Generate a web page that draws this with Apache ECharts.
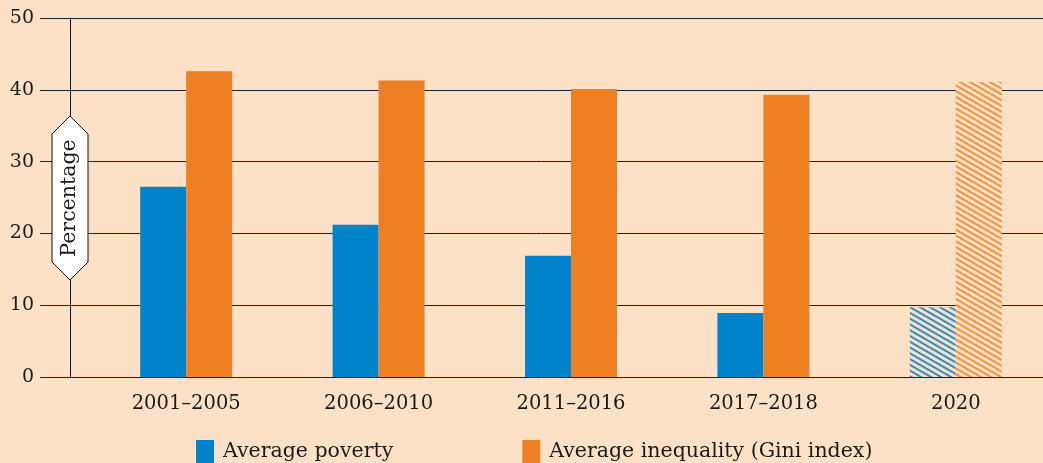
<!DOCTYPE html>
<html><head><meta charset="utf-8">
<script src="https://cdn.jsdelivr.net/npm/echarts@6/dist/echarts.min.js"></script>
<style>html,body{margin:0;padding:0;background:#fde1c7;}#c{width:1043px;height:463px;}</style>
</head><body><div id="c"></div>
<script>
const categories = ['2001–2005', '2006–2010', '2011–2016', '2017–2018', '2020'];
const poverty = [26.5, 21.2, 16.9, 8.9, 9.7];
const inequality = [42.6, 41.3, 40.1, 39.3, 41.1];
const yTicks = [0, 10, 20, 30, 40, 50];
const projectedIndex = 4;

const BG = '#fde1c7', BLUE = '#0083cb', ORANGE = '#ee7f22';
const FONT = 'DejaVu Serif';

function styled(arr, color, decalColor) {
  return arr.map((v, i) => i === projectedIndex ? {
    value: v,
    itemStyle: { color: BG, decal: { symbol: 'rect', dashArrayX: [1, 0], dashArrayY: [1.2, 2.2], rotation: Math.PI / 6, color: decalColor, symbolSize: 1 } }
  } : v);
}

const chart = echarts.init(document.getElementById('c'));
chart.setOption({
  backgroundColor: BG,
  animation: false,
  textStyle: { fontFamily: FONT },
  grid: [
    { left: 40, right: 0, top: 18, bottom: 86, outerBoundsMode: 'none', containLabel: false },
    { left: 90, width: 962, top: 18, bottom: 86, outerBoundsMode: 'none', containLabel: false }
  ],
  xAxis: [
    { gridIndex: 0, type: 'value', show: false, min: 0, max: 1 },
    { gridIndex: 1, type: 'category', data: categories,
      axisLine: { show: false }, axisTick: { show: false },
      axisLabel: { color: '#1a1a1a', fontSize: 19.5, fontFamily: FONT, margin: 17 } }
  ],
  yAxis: [
    { gridIndex: 0, type: 'value', min: yTicks[0], max: yTicks[yTicks.length - 1], interval: 10,
      axisLine: { show: false }, axisTick: { show: false },
      axisLabel: { color: '#1a1a1a', fontSize: 19, fontFamily: FONT, margin: 6 },
      splitLine: { lineStyle: { color: '#222', width: 1 } } },
    { gridIndex: 1, type: 'value', min: yTicks[0], max: yTicks[yTicks.length - 1], interval: 10,
      offset: 20,
      axisLine: { show: true, lineStyle: { color: '#111', width: 1 } }, axisTick: { show: false },
      axisLabel: { show: false }, splitLine: { show: false } }
  ],
  legend: {
    left: 196, top: 440, padding: 0, itemWidth: 18, itemHeight: 24, itemGap: 129,
    icon: 'rect',
    textStyle: { fontSize: 20.5, fontFamily: FONT, color: '#1a1a1a', padding: [0, 0, 0, 4] },
    data: ['Average poverty', 'Average inequality (Gini index)']
  },
  series: [
    { name: 'Average poverty', type: 'bar', xAxisIndex: 1, yAxisIndex: 1, barWidth: 46, barGap: '0%',
      itemStyle: { color: BLUE }, data: styled(poverty, BLUE, '#2a8fc4') },
    { name: 'Average inequality (Gini index)', type: 'bar', xAxisIndex: 1, yAxisIndex: 1, barWidth: 46, barGap: '0%',
      itemStyle: { color: ORANGE }, data: styled(inequality, ORANGE, '#f4913a') }
  ],
  graphic: [
    { type: 'polygon', z: 100,
      shape: { points: [[70, 116], [88, 134], [88, 262], [70, 280], [52, 262], [52, 134]] },
      style: { fill: '#fff', stroke: '#111', lineWidth: 1 } },
    { type: 'text', z: 101, x: 70, y: 198, rotation: Math.PI / 2,
      style: { text: 'Percentage', font: '20.5px "DejaVu Serif"', fill: '#1a1a1a', align: 'center', verticalAlign: 'middle' } }
  ]
});
</script></body></html>
